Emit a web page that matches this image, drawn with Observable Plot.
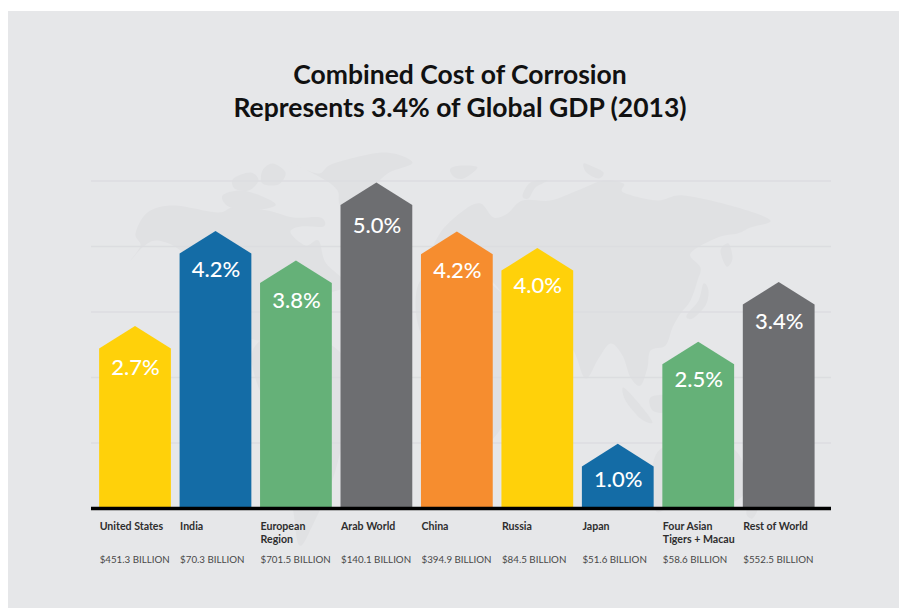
<!DOCTYPE html>
<html>
<head>
<meta charset="utf-8">
<script src="https://cdn.jsdelivr.net/npm/d3@7"></script>
<script src="https://cdn.jsdelivr.net/npm/@observablehq/plot@0.6"></script>
<style>
html,body{margin:0;padding:0;background:#fff;overflow:hidden;width:899px;height:608px}
#panel{position:absolute;left:8px;top:11px;width:891px;height:597px;background:#e6e7e9}
#title{position:absolute;left:10px;top:58px;width:900px;text-align:center;font:700 26.5px/33px Lato,sans-serif;color:#111;margin:0;z-index:3}
.layer{position:absolute;left:0;top:0}
.layer svg{display:block;background:transparent}
</style>
</head>
<body>
<div id="panel"></div>
<h1 id="title">Combined Cost of Corrosion<br>Represents 3.4% of Global GDP (2013)</h1>
<div id="map" class="layer"></div>
<div id="chart" class="layer"></div>
<script>
const regions = ["United States","India","European\nRegion","Arab World","China","Russia","Japan","Four Asian\nTigers + Macau","Rest of World"];
const percentLabels = ["2.7%","4.2%","3.8%","5.0%","4.2%","4.0%","1.0%","2.5%","3.4%"];
const tipValues = [2.78,4.23,3.78,4.97,4.22,3.97,0.98,2.54,3.45];
// Level at which each percentage label sits inside its bar
const labelLevels = [2.15,3.65,3.18,4.32,3.63,3.40,0.44,1.97,2.85];
const costs = ["$451.3 BILLION","$70.3 BILLION","$701.5 BILLION","$140.1 BILLION","$394.9 BILLION","$84.5 BILLION","$51.6 BILLION","$58.6 BILLION","$552.5 BILLION"];
const barColors = ["#ffd10a","#146ca6","#65b178","#6d6e71","#f68d2f","#ffd10a","#146ca6","#65b178","#6d6e71"];
const gridValues = [1,2,3,4,5];
const shoulderDrop = 0.345;
const halfWidth = 0.446;

// Faint world silhouette behind the chart
const alaskaCanada = [[130,260],[140,245],[135,233],[147,212],[173,205],[217,212],[233,207],[267,210],[293,217],[320,217],[323,226],[300,226],[290,232],[305,245],[318,240],[325,262],[345,285],[310,300],[290,330],[260,340],[225,325],[205,280],[180,250],[157,240],[143,246]];
const southAmerica = [[255,345],[290,332],[340,352],[348,400],[335,470],[312,525],[299,545],[293,512],[285,450],[255,378]];
const greenland = [[287,160],[317,173],[333,163],[383,152],[412,162],[387,173],[372,190],[360,215],[340,205],[337,190],[322,178]];
const arcticA = [[262,170],[272,163],[285,172],[278,184],[262,183]];
const arcticB = [[233,178],[250,172],[258,180],[248,190],[234,188]];
const arcticC = [[222,195],[240,190],[262,196],[275,205],[250,210],[228,206]];
const eurasia = [[440,232],[463,210],[480,203],[493,217],[507,213],[522,200],[550,200],[577,190],[603,180],[623,183],[623,192],[657,200],[683,195],[737,207],[770,220],[750,227],[737,233],[717,237],[690,253],[700,267],[697,280],[690,300],[680,313],[672,327],[665,345],[650,350],[647,367],[640,385],[630,377],[622,355],[610,343],[598,358],[585,378],[573,350],[555,330],[520,320],[490,280],[450,275],[430,260]];
const africa = [[425,275],[470,270],[520,310],[540,330],[515,375],[505,420],[480,450],[462,450],[455,395],[425,345],[415,305]];
const novaZemlya = [[522,195],[530,182],[547,180],[535,187],[528,198]];
const nordicIslands = [[450,168],[462,165],[477,167],[463,178],[453,176]];
const northSiberiaIs = [[583,163],[592,166],[603,172],[598,178],[586,172]];
const sakhalin = [[720,250],[728,243],[732,258],[726,266]];
const japan = [[703,283],[708,290],[705,305],[692,318],[686,315],[698,300]];
const sumatra = [[623,387],[640,405],[652,422],[640,418],[625,400]];
const borneo = [[650,397],[668,395],[677,405],[665,412],[652,410]];
const australia = [[655,455],[690,440],[735,450],[745,490],[720,505],[680,500],[655,510]];
const newZealand = [[748,505],[757,508],[752,518],[746,514]];
const lands = {alaskaCanada,southAmerica,greenland,arcticA,arcticB,arcticC,eurasia,africa,novaZemlya,nordicIslands,northSiberiaIs,sakhalin,japan,sumatra,borneo,australia,newZealand};
const landRows = Object.entries(lands).flatMap(([land,pts]) => pts.map(([mx,my]) => ({land,mx,my})));

document.getElementById("map").append(Plot.plot({
  width:899,height:608,margin:0,
  style:{background:"transparent"},
  x:{domain:[0,899],range:[0,899],axis:null},
  y:{domain:[0,608],range:[0,608],axis:null},
  marks:[Plot.line(landRows,{x:"mx",y:"my",z:"land",fill:"#e0e1e3",stroke:"none",curve:"cardinal-closed"})]
}));

const bars = regions.map((name,i) => ({name,i,tip:tipValues[i],level:labelLevels[i],color:barColors[i],label:percentLabels[i],cost:costs[i]}));
const outline = bars.flatMap(b => [
  {name:b.name,color:b.color,x:b.i-halfWidth,y:b.tip-shoulderDrop},
  {name:b.name,color:b.color,x:b.i,y:b.tip},
  {name:b.name,color:b.color,x:b.i+halfWidth,y:b.tip-shoulderDrop}
]);

document.getElementById("chart").append(Plot.plot({
  width:899,height:608,
  marginLeft:91,marginRight:68,marginTop:180,marginBottom:100,
  style:{background:"transparent",fontFamily:"Lato, sans-serif"},
  x:{domain:[-0.547,8.65],range:[91,831],axis:null},
  y:{domain:[0,5],range:[508,180.5],axis:null},
  color:{type:"identity"},
  marks:[
    Plot.ruleY(gridValues,{stroke:"#dcdde0",strokeWidth:1.4}),
    Plot.areaY(outline,{x:"x",y1:0,y2:"y",z:"name",fill:"color"}),
    Plot.ruleY([0],{stroke:"#000",strokeWidth:3.6}),
    Plot.text(bars,{x:"i",y:"level",text:"label",dy:0.5,fill:"#fff",fontSize:22,fontWeight:500,lineAnchor:"middle",textAnchor:"middle"}),
    Plot.text(bars,{x:d=>d.i-halfWidth,y:0,text:"name",dy:13,fill:"#2e2e2e",fontSize:10.6,fontWeight:700,lineHeight:1.19,lineAnchor:"top",textAnchor:"start"}),
    Plot.text(bars,{x:d=>d.i-halfWidth,y:0,text:"cost",dy:51.3,fill:"#484848",fontSize:9.75,fontWeight:400,lineAnchor:"middle",textAnchor:"start"})
  ]
}));
</script>
</body>
</html>
